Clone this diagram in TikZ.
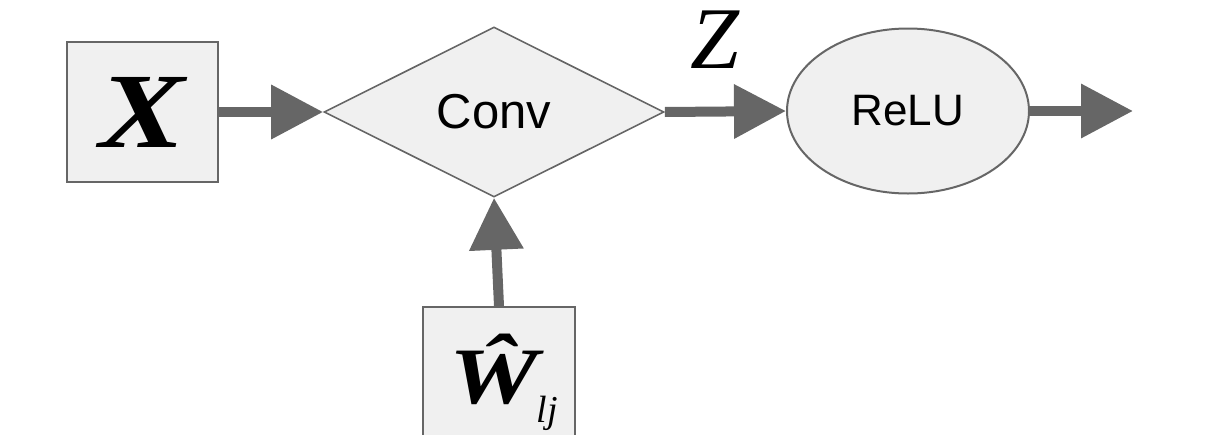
\documentclass[tikz,border=0pt]{standalone}
\usepackage{fontspec}
\setmainfont{Liberation Sans}
\newfontfamily\tms{Liberation Serif}
\usetikzlibrary{arrows.meta,shapes.geometric}
\definecolor{edgegray}{HTML}{666666}
\definecolor{fillgray}{HTML}{F0F0F0}
\begin{document}
\begin{tikzpicture}[x=1pt,y=-1pt,
  shapebox/.style={draw=edgegray, fill=fillgray, line width=2pt, inner sep=0pt},
  flow/.style={draw=edgegray, line width=10pt, -{Triangle[length=52pt,width=52pt]}},
]
\path[use as bounding box] (0,0) rectangle (1218,434);
\node[shapebox, minimum width=151pt, minimum height=140pt] (x) at (142.5,112)
  {\tms\fontsize{107}{107}\selectfont\bfseries\itshape\scalebox{1.2}[1]{X}};
\node[shapebox, diamond, line width=1.6pt, minimum width=340pt, minimum height=170pt] (conv) at (494,112)
  {\fontsize{49}{49}\selectfont Conv};
\node[shapebox, ellipse, minimum width=242pt, minimum height=165pt] (relu) at (908,111)
  {\fontsize{44}{44}\selectfont ReLU};
\coordinate (out) at (1133,111);
\node[shapebox, minimum width=152pt, minimum height=140pt, text height=62pt, text depth=10pt] (w) at (499,377)
  {\tms\hspace{10pt}{\fontsize{80}{80}\selectfont\bfseries\itshape\scalebox{1.25}[1]{Ŵ}}\kern-2pt\raisebox{-19pt}{\fontsize{38}{38}\selectfont\itshape lj}};
\node (zlab) at (715,40) {\tms\fontsize{88}{88}\selectfont\itshape Z};
\draw[flow] (x.east) -- (conv.west);
\draw[flow] (conv.east) -- (relu.west);
\draw[flow] (relu.east) -- (out);
\draw[flow] (w.north) -- (conv.south);
\end{tikzpicture}
\end{document}
